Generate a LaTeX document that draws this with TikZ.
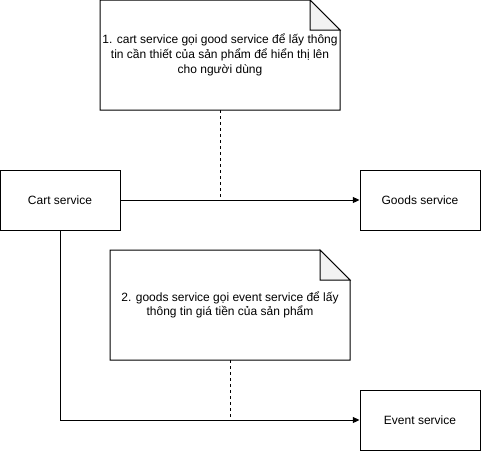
\documentclass[tikz,border=0pt]{standalone}
\usepackage{fontspec}
\setmainfont{Liberation Sans}
\usetikzlibrary{arrows.meta,calc}
\definecolor{foldgray}{RGB}{242,242,242}
\begin{document}
\begin{tikzpicture}[x=0.75pt,y=-0.75pt,
  svc/.style={draw,line width=0.75pt,minimum width=90pt,minimum height=45pt,inner sep=0pt,font=\fontsize{9}{11}\selectfont},
  notebox/.style={inner sep=0pt,font=\fontsize{9}{11}\selectfont,align=center},
  conn/.style={line width=0.75pt,-{Triangle[length=5pt,width=4.5pt]}},
  dashconn/.style={line width=0.75pt,dashed,dash pattern=on 2.5pt off 2pt}]
\useasboundingbox (0,0) rectangle (481,451);
% service boxes
\node[svc] (cart) at (60,200) {Cart service};
\node[svc] (goods) at (420,200) {Goods service};
\node[svc] (event) at (420,420) {Event service};
% note 1
\coordinate (n1tl) at (100,0);
\coordinate (n1br) at (340,110);
\filldraw[fill=white,line width=0.75pt] (100,0) -- (310,0) -- (340,30) -- (340,110) -- (100,110) -- cycle;
\filldraw[fill=foldgray,line width=0.75pt] (310,0) -- (310,30) -- (340,30) -- cycle;
\node[notebox] (note1) at (220,55) {1. cart service gọi good service để lấy thông\\tin cần thiết của sản phẩm để hiển thị lên\\cho người dùng};
\coordinate (n1b) at (220,110);
% note 2
\filldraw[fill=white,line width=0.75pt] (110,250) -- (320,250) -- (350,280) -- (350,360) -- (110,360) -- cycle;
\filldraw[fill=foldgray,line width=0.75pt] (320,250) -- (320,280) -- (350,280) -- cycle;
\node[notebox] (note2) at (230,305) {2. goods service gọi event service để lấy\\thông tin giá tiền của sản phẩm};
\coordinate (n2b) at (230,360);
% connectors
\draw[conn] (cart.east) -- (goods.west);
\draw[conn] (cart.south) |- (event.west);
\draw[dashconn] (n1b) -- (220,200);
\draw[dashconn] (n2b) -- (230,420);
\end{tikzpicture}
\end{document}
